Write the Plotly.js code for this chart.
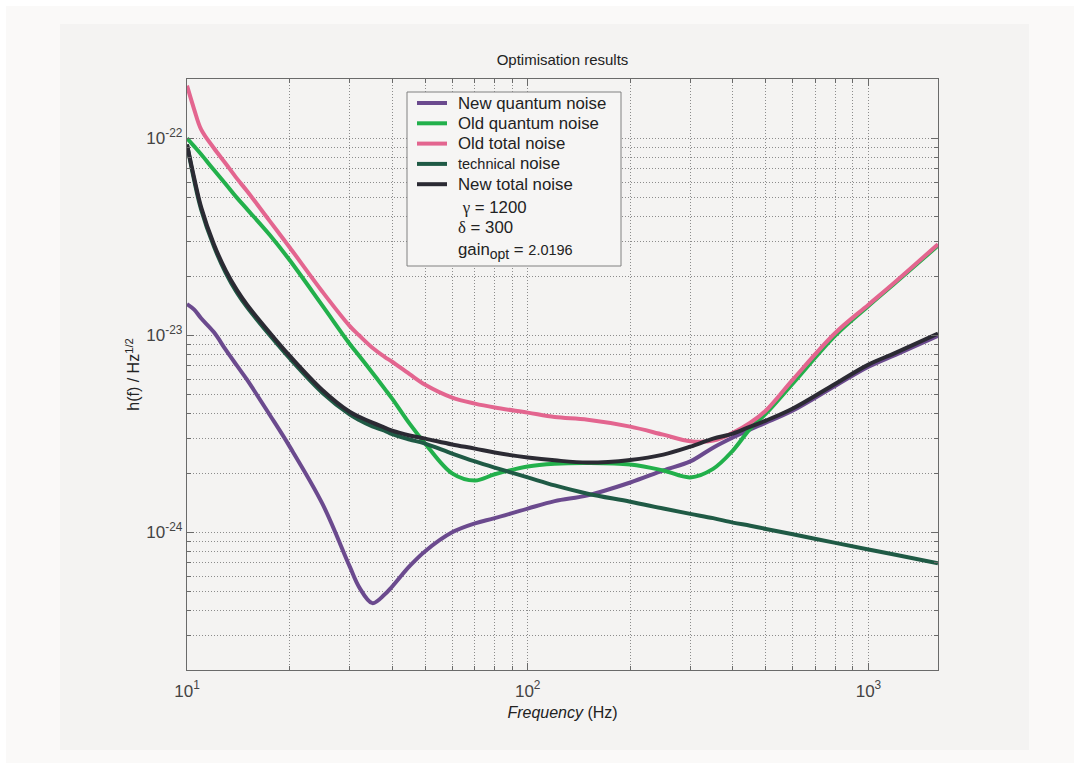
<!DOCTYPE html>
<html>
<head>
<meta charset="utf-8">
<script src="https://cdn.plot.ly/plotly-3.0.1.min.js"></script>
<style>html,body{margin:0;padding:0;background:#ffffff;}#chart{width:1074px;height:763px;}</style>
</head>
<body>
<div id="chart"></div>
<script>
// ---- data ----
const freq = [10,10.5,11,12,13,14,15,17.5,20,25,30,32,35,38,40,45,50,60,70,80,100,120,150,200,250,300,350,400,450,500,600,800,1000,1200,1600];

const newQuantum = [1.44e-23,1.35e-23,1.22e-23,1.035e-23,8.43e-24,7.03e-24,5.95e-24,3.94e-24,2.73e-24,1.39e-24,6.73e-25,5.27e-25,4.37e-25,4.83e-25,5.3e-25,6.73e-25,8.02e-25,1.0e-24,1.11e-24,1.18e-24,1.32e-24,1.44e-24,1.54e-24,1.79e-24,2.06e-24,2.29e-24,2.69e-24,3.03e-24,3.33e-24,3.6e-24,4.15e-24,5.55e-24,6.93e-24,7.96e-24,9.93e-24];

const oldQuantum = [1.0e-22,9.1e-23,8.3e-23,6.9e-23,5.85e-23,5.0e-23,4.37e-23,3.23e-23,2.41e-23,1.41e-23,9.06e-24,7.87e-24,6.46e-24,5.36e-24,4.77e-24,3.56e-24,2.82e-24,1.99e-24,1.83e-24,1.97e-24,2.16e-24,2.23e-24,2.25e-24,2.21e-24,2.06e-24,1.9e-24,2.1e-24,2.6e-24,3.36e-24,4.0e-24,5.7e-24,1.0e-23,1.41e-23,1.85e-23,2.85e-23];

const oldTotal = [1.85e-22,1.4e-22,1.11e-22,8.9e-23,7.43e-23,6.26e-23,5.4e-23,3.8e-23,2.8e-23,1.66e-23,1.117e-23,1.0e-23,8.65e-24,7.78e-24,7.34e-24,6.35e-24,5.61e-24,4.83e-24,4.5e-24,4.3e-24,4.05e-24,3.85e-24,3.73e-24,3.44e-24,3.13e-24,2.9e-24,2.92e-24,3.2e-24,3.6e-24,4.15e-24,5.96e-24,1.03e-23,1.43e-23,1.87e-23,2.9e-23];

const technical = [9.3e-23,6.1e-23,4.36e-23,2.82e-23,2.07e-23,1.65e-23,1.39e-23,1.0e-23,7.65e-24,5.1e-24,3.97e-24,3.72e-24,3.45e-24,3.28e-24,3.15e-24,2.96e-24,2.82e-24,2.51e-24,2.29e-24,2.13e-24,1.9e-24,1.73e-24,1.57e-24,1.43e-24,1.32e-24,1.24e-24,1.18e-24,1.12e-24,1.08e-24,1.04e-24,9.77e-25,8.84e-25,8.18e-25,7.69e-25,6.97e-25];

const newTotal = [9.3e-23,6.27e-23,4.48e-23,2.89e-23,2.13e-23,1.7e-23,1.43e-23,1.03e-23,7.88e-24,5.26e-24,4.09e-24,3.86e-24,3.6e-24,3.4e-24,3.28e-24,3.1e-24,2.99e-24,2.79e-24,2.66e-24,2.54e-24,2.4e-24,2.32e-24,2.26e-24,2.33e-24,2.48e-24,2.72e-24,2.99e-24,3.17e-24,3.44e-24,3.69e-24,4.25e-24,5.68e-24,7.1e-24,8.15e-24,1.02e-23];

const seriesNames = ["New quantum noise","Old quantum noise","Old total noise","<span style='font-size:14.5px'>technical</span> noise","New total noise"];
const seriesColors = ["#6b4a8e","#22b04b","#e3658f","#1f5a45","#2b2a33"];
const seriesValues = [newQuantum, oldQuantum, oldTotal, technical, newTotal];
const paramLines = ["\u00a0<span style='font-family:\"Liberation Serif\",serif'>\u03b3</span> = 1200",
                    "<span style='font-family:\"Liberation Serif\",serif'>\u03b4</span> = 300",
                    "gain<sub><span style='font-size:14px'>opt</span></sub> = <span style='font-size:14.5px'>2.0196</span>"];

const xDecadeVals = [10,100,1000];
const xDecadeText = ["10<sup>1</sup>","10<sup>2</sup>","10<sup>3</sup>"];
const yDecadeVals = [1e-24,1e-23,1e-22];
const yDecadeText = ["10<sup>-24</sup>","10<sup>-23</sup>","10<sup>-22</sup>"];

// ---- minor grid positions (2..9 multiples) ----
function minorTicks(minExp, maxExp, lo, hi){
  const v=[];
  for(let e=minExp;e<=maxExp;e++){for(let m=2;m<=9;m++){const t=m*Math.pow(10,e); if(t>=lo*0.999&&t<=hi*1.001) v.push(t);}}
  return v;
}
const xMinor = minorTicks(1,3,10,1600);
const yMinor = minorTicks(-25,-23,2e-25,2e-22);

const traces = seriesValues.map((vals,i)=>({
  x: freq, y: vals, type:'scatter', mode:'lines', name: seriesNames[i],
  line:{color: seriesColors[i], width:4, shape:'spline', smoothing:1.0},
  showlegend:false, hoverinfo:'skip'
}));

// ---- layout geometry (pixels -> paper) ----
const L=187, R=938, T=79, B=670;
const px=(x)=>(x-L)/(R-L);
const py=(y)=>(B-y)/(B-T);

const shapes=[
  {type:'rect',xref:'paper',yref:'paper',x0:px(6),x1:px(1074),y0:py(763),y1:py(6),fillcolor:'#faf9f8',line:{width:0},layer:'below'},
  {type:'rect',xref:'paper',yref:'paper',x0:px(60),x1:px(1029),y0:py(750),y1:py(24),fillcolor:'#f4f3f2',line:{width:0},layer:'below'},
  {type:'rect',xref:'paper',yref:'paper',x0:px(407),x1:px(621),y0:py(266),y1:py(92),fillcolor:'#f6f5f4',line:{color:'#808080',width:1},layer:'above'}
];
const annotations=[];
const fontFam='"Liberation Sans", Arial, Helvetica, sans-serif';
seriesNames.forEach((n,i)=>{
  const yy=103+i*20.3;
  shapes.push({type:'line',xref:'paper',yref:'paper',x0:px(417),x1:px(447),y0:py(yy),y1:py(yy),line:{color:seriesColors[i],width:4},layer:'above'});
  annotations.push({xref:'paper',yref:'paper',x:px(456),y:py(yy),xanchor:'left',yanchor:'middle',text:n,showarrow:false,font:{family:fontFam,size:16.8,color:'#222'}});
});
const paramY=[207,227,251];
paramLines.forEach((t,i)=>{
  annotations.push({xref:'paper',yref:'paper',x:px(456),y:py(paramY[i]),xanchor:'left',yanchor:'middle',text:t,showarrow:false,font:{family:fontFam,size:16.8,color:'#222'}});
});

const axisCommon={
  type:'log', showline:true, linecolor:'#6a6a6a', linewidth:1.2, mirror:'allticks',
  ticks:'inside', ticklen:7, tickcolor:'#6a6a6a', tickmode:'array',
  showgrid:true, gridcolor:'#8c8c8c', gridwidth:1, griddash:'1px,2px',
  zeroline:false, tickfont:{family:fontFam,size:17,color:'#444'}
};

const layout={
  width:1074, height:763,
  margin:{l:L,r:1074-R,t:T,b:763-B},
  paper_bgcolor:'#ffffff', plot_bgcolor:'#f4f3f2',
  font:{family:fontFam,color:'#222'},
  title:{text:'Optimisation results',x:0.5,xref:'paper',y:1-60/763,yref:'container',yanchor:'middle',font:{family:fontFam,size:15,color:'#222'}},
  xaxis:Object.assign({},axisCommon,{range:[1,Math.log10(1600)],tickvals:xDecadeVals,ticktext:xDecadeText,ticklabelstandoff:5,
    minor:{tickmode:'array',tickvals:xMinor,ticks:'inside',ticklen:4,tickcolor:'#6a6a6a',showgrid:true,gridcolor:'#8c8c8c',gridwidth:1,griddash:'1px,2px'},
    title:{text:'<i>Frequency</i> (Hz)',font:{family:fontFam,size:16,color:'#222'},standoff:7}}),
  yaxis:Object.assign({},axisCommon,{range:[Math.log10(2e-25),Math.log10(2e-22)],tickvals:yDecadeVals,ticktext:yDecadeText,
    minor:{tickmode:'array',tickvals:yMinor,ticks:'inside',ticklen:4,tickcolor:'#6a6a6a',showgrid:true,gridcolor:'#8c8c8c',gridwidth:1,griddash:'1px,2px'},
    title:{text:'h(f) / Hz<sup>1/2</sup>',font:{family:fontFam,size:16,color:'#222'},standoff:2}}),
  showlegend:false,
  shapes:shapes, annotations:annotations
};

Plotly.newPlot('chart',traces,layout,{staticPlot:true,displayModeBar:false});
</script>
</body>
</html>
